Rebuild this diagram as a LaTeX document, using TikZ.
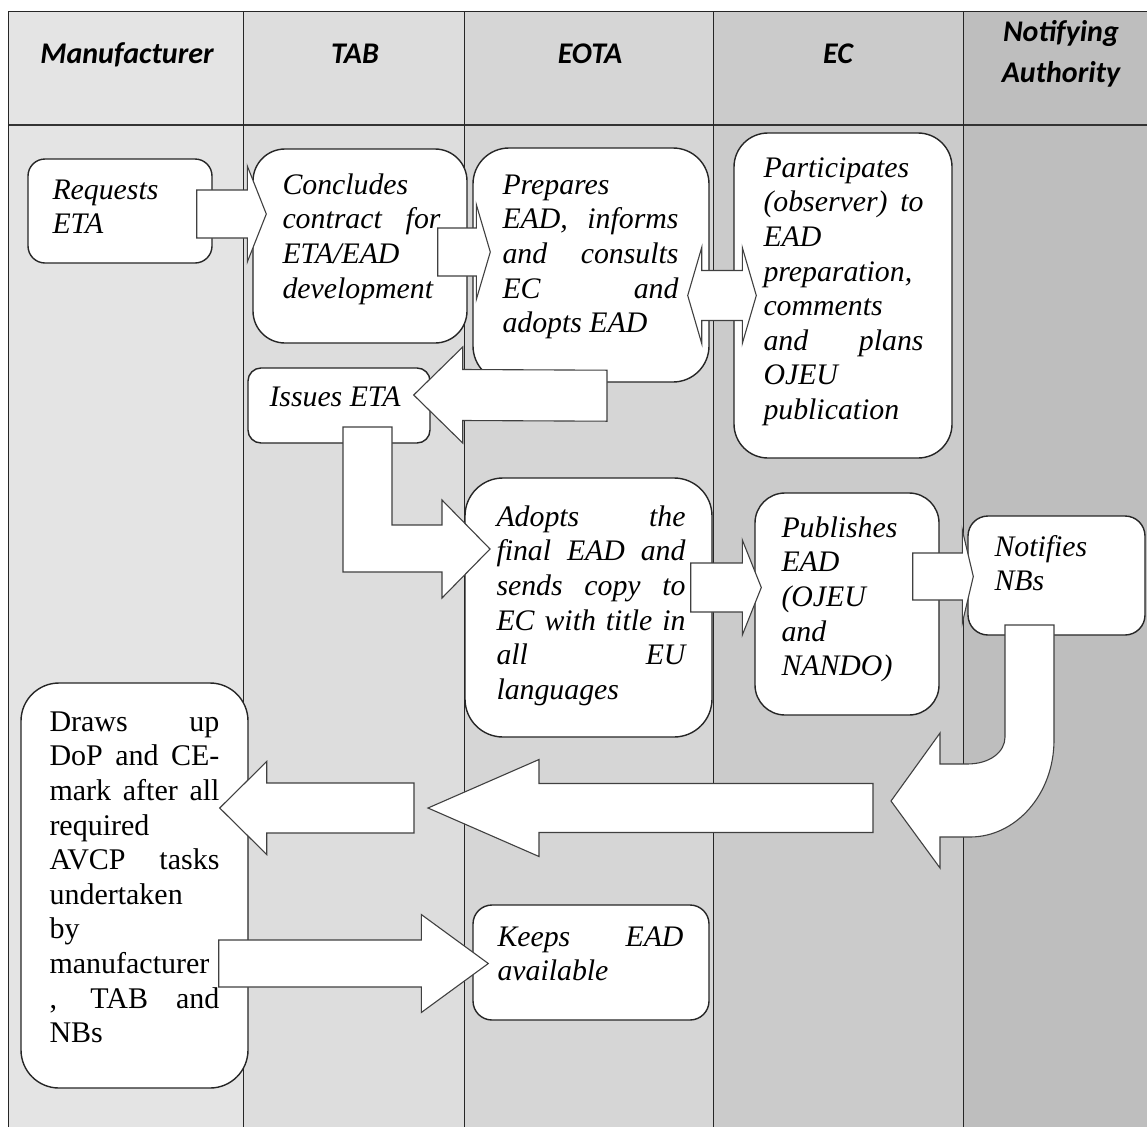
\documentclass[tikz,border=0pt]{standalone}
\usepackage{fontspec}
\setmainfont{Liberation Serif}
\newfontfamily\hdrfont{Carlito}
\usetikzlibrary{calc}
\hyphenpenalty=10000
\exhyphenpenalty=10000
\tolerance=10000
\hbadness=10000
\hfuzz=20pt
\definecolor{colM}{RGB}{228,228,228}
\definecolor{colT}{RGB}{221,221,221}
\definecolor{colE}{RGB}{214,214,214}
\definecolor{colC}{RGB}{203,203,203}
\definecolor{colN}{RGB}{190,190,190}
\tikzset{
  grid/.style={draw=black!85, line width=1pt},
  gridthick/.style={draw=black!80, line width=2.4pt},
  box/.style={draw=black!85, line width=1.4pt, fill=white, inner sep=0pt},
  txt/.style={inner sep=0pt, anchor=base west, align=justify,
    font=\fontsize{29.8}{34.6}\selectfont\itshape},
  txtup/.style={inner sep=0pt, anchor=base west, align=justify,
    font=\fontsize{30}{34.6}\selectfont},
  hdr/.style={inner sep=0pt, anchor=base,
    font=\hdrfont\bfseries\itshape\fontsize{30}{41}\selectfont},
  barrow/.style={draw=black!75, line width=1.1pt, fill=white, line join=miter},
}
% horizontal block arrow: tail, tip, shaft half width, head half width, signed head length
\newcommand\harrow[5]{%
  \filldraw[barrow] ($(#1)+(0,-#3)$) -- ($(#2)+({-1*(#5)},-#3)$) -- ($(#2)+({-1*(#5)},-#4)$)
    -- (#2) -- ($(#2)+({-1*(#5)},#4)$) -- ($(#2)+({-1*(#5)},#3)$) -- ($(#1)+(0,#3)$) -- cycle;}
% double block arrow: left tip, right tip, shaft half width, head half width, head length
\newcommand\dharrow[5]{%
  \filldraw[barrow] (#1) -- ($(#1)+(#5,-#4)$) -- ($(#1)+(#5,-#3)$) -- ($(#2)+(-#5,-#3)$)
    -- ($(#2)+(-#5,-#4)$) -- (#2) -- ($(#2)+(-#5,#4)$) -- ($(#2)+(-#5,#3)$)
    -- ($(#1)+(#5,#3)$) -- ($(#1)+(#5,#4)$) -- cycle;}
\begin{document}
\begin{tikzpicture}[x=1pt,y=-1pt]
\useasboundingbox (0,0) rectangle (1147,1127);
% lanes
\fill[colM] (8,11) rectangle (243,1127);
\fill[colT] (243,11) rectangle (464,1127);
\fill[colE] (464,11) rectangle (713,1127);
\fill[colC] (713,11) rectangle (963,1127);
\fill[colN] (963,11) rectangle (1147,1127);
\draw[grid] (8,11) -- (1147,11);
\draw[gridthick] (8,125) -- (1147,125);
\foreach \x in {8,243,464,713,963} \draw[grid] (\x,11) -- (\x,1127);
% headers
\node[hdr] (hM) at (127,63) {Manufacturer};
\node[hdr] (hT) at (355,63) {TAB};
\node[hdr] (hE) at (590,63) {EOTA};
\node[hdr] (hC) at (838,63) {EC};
\node[hdr, text width=180pt, align=center] (hN) at (1061,41) {Notifying\\Authority};
% boxes
\node[box, minimum width=184pt, minimum height=104pt, rounded corners=17pt] (req) at (120,211) {};
\node[box, minimum width=214pt, minimum height=194pt, rounded corners=32pt] (conc) at (360,246) {};
\node[box, minimum width=236pt, minimum height=234pt, rounded corners=36pt] (prep) at (591,265) {};
\node[box, minimum width=218pt, minimum height=325pt, rounded corners=34pt] (part) at (843,295.5) {};
\node[box, minimum width=182pt, minimum height=75pt, rounded corners=13pt] (issue) at (339,405.5) {};
\node[box, minimum width=247pt, minimum height=259pt, rounded corners=38pt] (adopt) at (588.5,607.5) {};
\node[box, minimum width=184pt, minimum height=222pt, rounded corners=30pt] (pub) at (847,604) {};
\node[box, minimum width=177pt, minimum height=119pt, rounded corners=20pt] (notif) at (1056.5,575.5) {};
\node[box, minimum width=227pt, minimum height=405pt, rounded corners=38pt] (draws) at (134.5,885.5) {};
\node[box, minimum width=236pt, minimum height=115pt, rounded corners=19pt] (keeps) at (591,962.5) {};
% arrow end points
\coordinate (a1s) at ($(req.east)+(-16,3)$);
\coordinate (a1e) at ($(conc.west)+(14,-32)$);
\coordinate (a2s) at ($(conc.east)+(-30,6)$);
\coordinate (a2e) at ($(prep.west)+(18,-13)$);
\coordinate (a3s) at ($(prep.east)+(-22,30.5)$);
\coordinate (a3e) at ($(part.west)+(23,0)$);
\coordinate (a4s) at ($(prep.south)+(16,13)$);
\coordinate (a4e) at ($(issue.east)+(-17,-10.5)$);
\coordinate (a6s) at ($(adopt.east)+(-22,-20)$);
\coordinate (a6e) at ($(pub.west)+(7,-16.5)$);
\coordinate (a7s) at ($(pub.east)+(-27,-27.5)$);
\coordinate (a7e) at ($(notif.west)+(6,1)$);
\coordinate (a9s) at (873,808);
\coordinate (a9e) at (428,808);
\coordinate (a10s) at (414,808);
\coordinate (a10e) at ($(draws.east)+(-29,-77.5)$);
\coordinate (a11s) at ($(draws.east)+(-30,78)$);
\coordinate (a11e) at ($(keeps.west)+(16,1)$);
% arrows
\harrow{a1s}{a1e}{24}{48}{19}
\harrow{a2s}{a2e}{24}{47.5}{14}
\dharrow{a3s}{a3e}{25}{48}{14}
\harrow{a4s}{a4e}{25.5}{48}{-49}
\filldraw[barrow] (343,427) -- (392,427) -- (392,525) -- (442,525) -- (442,500) -- (490,549)
  -- (442,598) -- (442,572) -- (343,572) -- cycle;
\harrow{a6s}{a6e}{24.5}{47.5}{19}
\harrow{a7s}{a7e}{23.5}{46.5}{11}
\filldraw[barrow] (1005,625) -- (1005,737) .. controls (1005,752) and (990,764) .. (967,764)
  -- (940,764) -- (940,733) -- (891,801) -- (940,868) -- (940,837) -- (970,837)
  .. controls (1016,837) and (1054,794) .. (1054,740) -- (1054,625) -- cycle;
\harrow{a9s}{a9e}{24.5}{48.5}{-111}
\harrow{a10s}{a10e}{25}{46.5}{-47}
\harrow{a11s}{a11e}{23.5}{49}{67}
% texts
\node[txt, text width=155pt] (reqT) at ($(req.north west)+(25,41)$) {Requests\\ETA};
\node[txt, text width=158pt] (concT) at ($(conc.north west)+(30,46)$)
  {Concludes\\ contract for\linebreak ETA/EAD\\ development};
\node[txt, text width=176pt] (prepT) at ($(prep.north west)+(30,47)$)
  {Prepares\\ EAD, informs\linebreak and consults\linebreak EC and\linebreak adopts EAD};
\node[txt, text width=160pt] (partT) at ($(part.north west)+(30,45)$)
  {Participates\\ (observer) to\linebreak EAD\\ preparation,\\ comments\\ and plans\linebreak OJEU\\ publication};
\node[txt, text width=150pt] (issueT) at ($(issue.north west)+(22,39)$) {Issues ETA};
\node[txt, text width=189pt] (adoptT) at ($(adopt.north west)+(32,49)$)
  {Adopts the\linebreak final EAD and\linebreak sends copy to\linebreak EC with title in\linebreak all EU\linebreak languages};
\node[txt, text width=150pt] (pubT) at ($(pub.north west)+(27,45)$)
  {Publishes\\ EAD\\ (OJEU\\ and\\ NANDO)};
\node[txt, text width=130pt] (notifT) at ($(notif.north west)+(27,41)$) {Notifies\\ NBs};
\node[txtup, text width=170pt] (drawsT) at ($(draws.north west)+(29,49)$)
  {Draws up\linebreak DoP and CE-\linebreak mark after all\linebreak required\\ AVCP tasks\linebreak undertaken\\ by\\ manufacturer\\ , TAB and\linebreak NBs};
\node[txt, text width=186pt] (keepsT) at ($(keeps.north west)+(25,42)$) {Keeps EAD\linebreak available};
\end{tikzpicture}
\end{document}
